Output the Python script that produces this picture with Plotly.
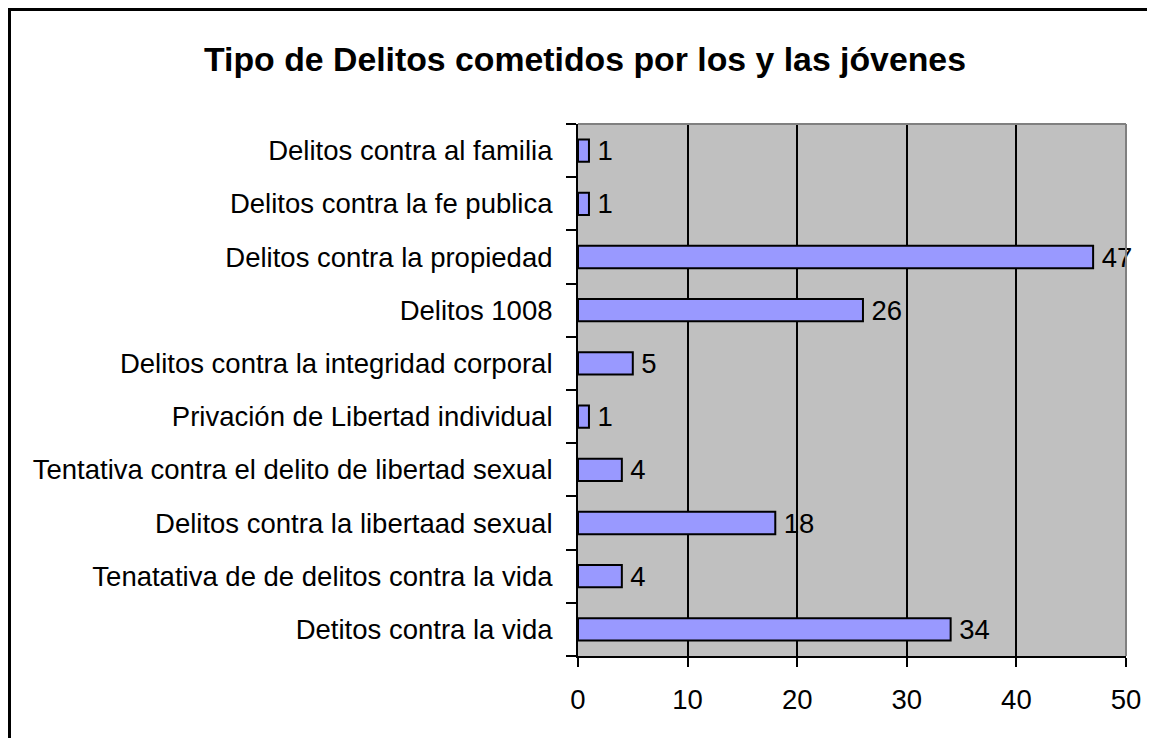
import plotly.graph_objects as go

categories = [
    "Detitos contra la vida",
    "Tenatativa de de delitos contra la vida",
    "Delitos contra la libertaad sexual",
    "Tentativa contra el delito de libertad sexual",
    "Privación de Libertad individual",
    "Delitos contra la integridad corporal",
    "Delitos 1008",
    "Delitos contra la propiedad",
    "Delitos contra la fe publica",
    "Delitos contra al familia",
]
values = [34, 4, 18, 4, 1, 5, 26, 47, 1, 1]
x_ticks = [0, 10, 20, 30, 40, 50]
title_text = "Tipo de Delitos cometidos por los y las jóvenes"

OFF = 8  # page body margin
W, H = 1155 - OFF, 738 - OFF
L, R, T, B = 578 - OFF, 1126 - OFF, 124 - OFF, 656 - OFF
pw, ph = R - L, B - T

def px(x):
    return (x - OFF - L) / pw

def py(y):
    return (B - (y - OFF)) / ph

font = "Liberation Sans, Arial, sans-serif"

fig = go.Figure(go.Bar(
    x=values, y=categories, orientation="h",
    marker=dict(color="#9999FF", line=dict(color="black", width=2)),
    text=["\u2009" + str(v) for v in values], textposition="outside",
    textfont=dict(size=27.5, color="black", family=font),
    cliponaxis=False, constraintext="none", width=0.42,
))

fig.update_layout(
    width=W, height=H,
    margin=dict(l=L, r=W - R, t=T, b=H - B, pad=0),
    paper_bgcolor="white", plot_bgcolor="#C0C0C0",
    showlegend=False,
    font=dict(family=font, size=27.5, color="black"),
    title=dict(text="<b>" + title_text + "</b>", font=dict(size=33.8, family=font, color="black"),
               x=(585 - OFF) / W, xref="container", xanchor="center",
               y=1 - (59.5 - OFF) / H, yref="container", yanchor="middle"),
    xaxis=dict(range=[0, 50], tickvals=x_ticks, showgrid=True, gridcolor="black", gridwidth=2,
               showline=True, linecolor="black", linewidth=2, ticks="outside", ticklen=9,
               tickwidth=2, tickcolor="black", zeroline=False, ticklabelstandoff=9,
               tickfont=dict(size=27.5)),
    yaxis=dict(type="category", showgrid=False, showline=True, linecolor="black", linewidth=2,
               ticks="outside", tickson="boundaries", ticklen=10, tickwidth=2, tickcolor="black",
               ticklabelstandoff=18, tickfont=dict(size=27.5), range=[-0.5, len(categories) - 0.5]),
    shapes=[
        dict(type="line", xref="paper", yref="paper", x0=0, x1=1, y0=1, y1=1,
             line=dict(color="#808080", width=2), layer="above"),
        dict(type="line", xref="paper", yref="paper", x0=1, x1=1, y0=0, y1=1,
             line=dict(color="#808080", width=2), layer="above"),
        dict(type="line", xref="paper", yref="paper", x0=px(OFF + 1.5), x1=px(OFF + 1.5),
             y0=py(9.5), y1=py(760), line=dict(color="black", width=3)),
        dict(type="line", xref="paper", yref="paper", x0=px(OFF), x1=px(1180), y0=py(9.5), y1=py(9.5),
             line=dict(color="black", width=3)),
    ],
)

fig.write_html("out.html")
